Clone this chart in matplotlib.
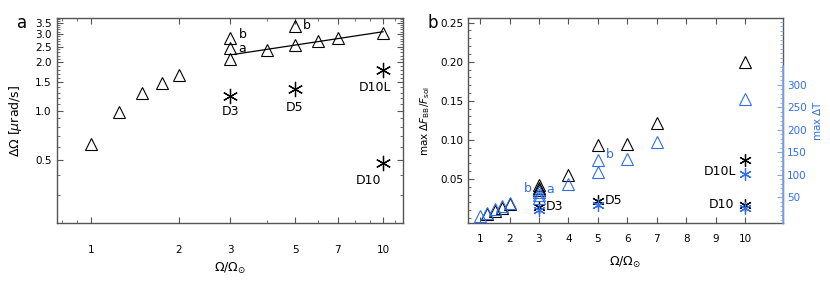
import numpy as np
import matplotlib.pyplot as plt
from matplotlib.ticker import FixedLocator, FixedFormatter, MultipleLocator, NullFormatter

# ---- panel a : differential rotation vs rotation rate ----
a_tri_x = [1.0, 1.25, 1.5, 1.75, 2.0, 3.0, 3.0, 3.0, 4.0, 5.0, 5.0, 6.0, 7.0, 10.0]
a_tri_y = [0.62, 0.98, 1.29, 1.48, 1.67, 2.09, 2.44, 2.84, 2.38, 2.56, 3.36, 2.70, 2.82, 3.02]
a_star_x = [3.0, 5.0, 10.0, 10.0]
a_star_y = [1.23, 1.36, 1.79, 0.475]
a_star_lab = ['D3', 'D5', 'D10L', 'D10']
a_fit_x = [3.1, 10.0]
a_fit_y = [2.24, 3.09]

# ---- panel b : flux / temperature contrast ----
b_tri_x = [1.25, 1.5, 1.75, 2.0, 3.0, 3.0, 3.0, 4.0, 5.0, 6.0, 7.0, 10.0]
b_tri_y = [0.005, 0.009, 0.013, 0.018, 0.036, 0.039, 0.042, 0.055, 0.094, 0.095, 0.122, 0.199]
b_star_x = [3.0, 5.0, 10.0, 10.0]
b_star_y = [0.0146, 0.0219, 0.0743, 0.0167]
b_star_lab = ['D3', 'D5', 'D10L', 'D10']
bT_tri_x = [1.0, 1.25, 1.5, 1.75, 2.0, 3.0, 3.0, 3.0, 4.0, 5.0, 5.0, 6.0, 7.0, 10.0]
bT_tri_y = [8, 15, 24, 31, 38, 48, 55, 62, 80, 107, 133, 135, 172, 269]
bT_star_x = [3.0, 5.0, 10.0, 10.0]
bT_star_y = [22, 33, 102, 25]

blue = '#2f6fe8'
lightblue = '#7fa6ee'
frame = '#555555'
star = (6, 2, 0)

plt.rcParams['font.family'] = 'DejaVu Sans'
plt.rcParams['mathtext.fontset'] = 'dejavusans'

fig = plt.figure(figsize=(8.3, 2.85), dpi=100)
ax1 = fig.add_axes([0.0687, 0.218, 0.4168, 0.719])
ax2 = fig.add_axes([0.5635, 0.217, 0.3795, 0.720])

def style(ax):
    for s in ax.spines.values():
        s.set_color(frame)
        s.set_linewidth(1.0)
    ax.tick_params(which='both', direction='in', top=True, right=True, color=frame, labelsize=7.5)
    ax.tick_params(which='major', length=4)
    ax.tick_params(which='minor', length=2)

# panel a
ax1.set_xscale('log')
ax1.set_yscale('log')
ax1.set_xlim(0.767, 11.7)
ax1.set_ylim(0.203, 3.76)
ax1.plot(a_tri_x, a_tri_y, ls='none', marker='^', ms=9, mfc='none', mec='black', mew=0.8)
ax1.plot(a_star_x, a_star_y, ls='none', marker=star, ms=11, color='black', mew=0.9)
ax1.plot(a_fit_x, a_fit_y, color='black', lw=0.9)
ax1.annotate('b', (3.0, 2.84), xytext=(6, 2), textcoords='offset points', fontsize=9, va='center')
ax1.annotate('a', (3.0, 2.44), xytext=(6, 0), textcoords='offset points', fontsize=9, va='center')
ax1.annotate('b', (5.0, 3.36), xytext=(6, 0), textcoords='offset points', fontsize=9, va='center')
a_lab_off = [(0, -11), (0, -13), (-5.5, -12.5), (-10.5, -12.5)]
for x, y, t, off in zip(a_star_x, a_star_y, a_star_lab, a_lab_off):
    ax1.annotate(t, (x, y), xytext=off, textcoords='offset points', fontsize=9, ha='center', va='center')
style(ax1)
ax1.xaxis.set_major_locator(FixedLocator([1, 2, 3, 5, 7, 10]))
ax1.xaxis.set_major_formatter(FixedFormatter(['1', '2', '3', '5', '7', '10']))
ax1.xaxis.set_minor_locator(FixedLocator([0.8, 0.9, 4, 6, 8, 9, 11]))
ax1.xaxis.set_minor_formatter(NullFormatter())
a_yt = [0.5, 1.0, 1.5, 2.0, 2.5, 3.0, 3.5]
ax1.yaxis.set_major_locator(FixedLocator(a_yt))
ax1.yaxis.set_major_formatter(FixedFormatter(['%.1f' % v for v in a_yt]))
ax1.yaxis.set_minor_locator(FixedLocator([v / 10 for v in range(2, 38) if v % 5 != 0]))
ax1.yaxis.set_minor_formatter(NullFormatter())
ax1.tick_params(axis='x', which='major', pad=16)
ax1.tick_params(axis='y', which='major', pad=4)
ax1.set_xlabel(r'$\Omega/\Omega_{\odot}$', fontsize=9, labelpad=4)
ax1.set_ylabel(r'$\Delta\Omega$ [$\mu$rad/s]', fontsize=9, labelpad=8)
fig.text(0.027, 0.92, 'a', fontsize=12, ha='center', va='center')

# panel b
ax2.set_xlim(0.58, 11.28)
ax2.set_ylim(-0.0066, 0.256)
ax2.plot(b_tri_x, b_tri_y, ls='none', marker='^', ms=8, mfc='none', mec='black', mew=0.8, zorder=3)
ax2.plot(b_star_x, b_star_y, ls='none', marker=star, ms=9, color='black', mew=0.9, zorder=3)
style(ax2)
ax2.xaxis.set_major_locator(FixedLocator(range(1, 11)))
ax2.yaxis.set_major_locator(FixedLocator([0.05, 0.10, 0.15, 0.20, 0.25]))
ax2.yaxis.set_major_formatter(FixedFormatter(['0.05', '0.10', '0.15', '0.20', '0.25']))
ax2.yaxis.set_minor_locator(MultipleLocator(0.01))
ax2.tick_params(right=False, which='both')
ax2.tick_params(axis='x', which='major', pad=8)
ax2.tick_params(axis='y', which='major', pad=3)
ax2.set_xlabel(r'$\Omega/\Omega_{\odot}$', fontsize=9, labelpad=8)
ax2.set_ylabel(r'max $\Delta F_{\rm BB}/F_{\rm sol}$', fontsize=7.5, labelpad=6)
fig.text(0.521, 0.92, 'b', fontsize=12, ha='center', va='center')
ax2.annotate('D3', (3.0, b_star_y[0]), xytext=(5, 0), textcoords='offset points', fontsize=9, va='center')
ax2.annotate('D5', (5.0, b_star_y[1]), xytext=(5, 0), textcoords='offset points', fontsize=9, va='center')
ax2.annotate('D10L', (10.0, b_star_y[2]), xytext=(-6, -8), textcoords='offset points', fontsize=9, ha='right', va='center')
ax2.annotate('D10', (10.0, b_star_y[3]), xytext=(-8, 0), textcoords='offset points', fontsize=9, ha='right', va='center')

ax3 = ax2.twinx()
ax3.set_ylim(-8, 449)
ax3.plot(bT_tri_x, bT_tri_y, ls='none', marker='^', ms=8, mfc='none', mec=blue, mew=0.8)
ax3.plot(bT_star_x, bT_star_y, ls='none', marker=star, ms=9, color=blue, mew=0.9)
for s in ['top', 'left', 'bottom']:
    ax3.spines[s].set_visible(False)
ax3.spines['right'].set_color(lightblue)
ax3.spines['right'].set_linewidth(1.2)
ax3.spines['right'].set_bounds(-8, 342)
ax3.yaxis.set_major_locator(FixedLocator([50, 100, 150, 200, 250, 300]))
ax3.yaxis.set_minor_locator(MultipleLocator(10))
ax3.tick_params(axis='y', which='both', direction='in', colors=blue, labelsize=7.5, pad=3)
ax3.tick_params(axis='y', which='major', length=4, color=lightblue)
ax3.tick_params(axis='y', which='minor', length=2, color=lightblue)
ax3.set_ylabel(r'max $\Delta$T', fontsize=7.5, color=blue, labelpad=3)
ax3.annotate('b', (5.0, 133), xytext=(6, 4), textcoords='offset points', fontsize=9, color=blue, va='center')
ax3.annotate('b', (3.0, 70), xytext=(-5, 0), textcoords='offset points', fontsize=9, color=blue, ha='right', va='center')
ax3.annotate('a', (3.0, 70), xytext=(5, -1), textcoords='offset points', fontsize=9, color=blue, va='center')

fig.savefig('out.png', dpi=100)
